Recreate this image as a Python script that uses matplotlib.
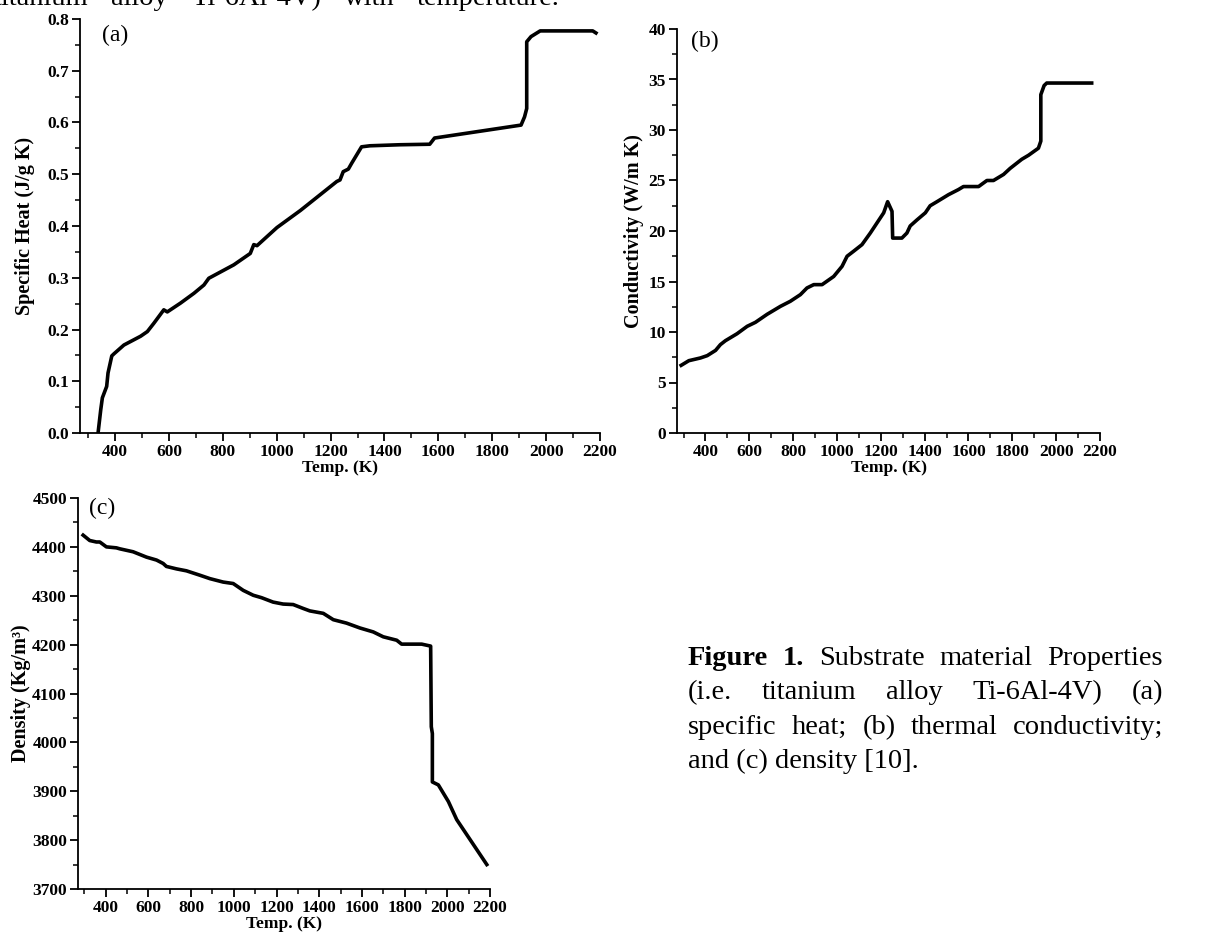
import matplotlib
matplotlib.use('Agg')
from matplotlib import pyplot as plt
from matplotlib.ticker import MultipleLocator

plt.rcParams['font.family'] = ['Liberation Serif', 'DejaVu Serif']

# (a) specific heat
temp_a = [337, 347, 353, 369, 374, 388, 396, 433, 495, 520, 544, 581, 594, 643, 693, 730,
          748, 841, 902, 915, 927, 1001, 1088, 1223, 1235, 1247, 1266, 1278, 1315, 1346,
          1457, 1568, 1586, 1907, 1920, 1928, 1928, 1944, 1978, 2173, 2185]
cp_a = [0.0, 0.045, 0.068, 0.09, 0.116, 0.149, 0.153, 0.17, 0.187, 0.196, 0.212, 0.238,
        0.234, 0.251, 0.27, 0.286, 0.299, 0.325, 0.347, 0.364, 0.362, 0.397, 0.430, 0.486,
        0.489, 0.505, 0.51, 0.521, 0.553, 0.555, 0.557, 0.558, 0.570, 0.595, 0.611, 0.627,
        0.756, 0.766, 0.777, 0.777, 0.773]

# (b) thermal conductivity
temp_b = [289, 324, 377, 408, 446, 468, 491, 544, 590, 628, 681, 742, 787, 833, 863, 894,
          932, 985, 1023, 1046, 1076, 1114, 1152, 1213, 1231, 1251, 1254, 1296, 1319, 1334,
          1365, 1403, 1425, 1456, 1509, 1554, 1577, 1646, 1684, 1714, 1760, 1790, 1843,
          1874, 1919, 1930, 1930, 1945, 1957, 2162]
k_b = [6.7, 7.16, 7.43, 7.66, 8.18, 8.75, 9.14, 9.83, 10.56, 10.96, 11.75, 12.54, 13.04,
       13.7, 14.36, 14.69, 14.69, 15.5, 16.5, 17.5, 18.0, 18.65, 19.8, 21.8, 22.9, 21.95,
       19.3, 19.3, 19.8, 20.5, 21.1, 21.8, 22.5, 22.9, 23.6, 24.1, 24.4, 24.4, 25.0, 25.0,
       25.6, 26.2, 27.1, 27.5, 28.2, 28.9, 33.5, 34.4, 34.65, 34.65]

# (c) density
temp_c = [294, 325, 356, 372, 403, 450, 466, 528, 591, 638, 669, 684, 731, 778, 841, 888,
          950, 997, 1044, 1091, 1130, 1184, 1231, 1278, 1325, 1356, 1419, 1466, 1528, 1591,
          1653, 1700, 1763, 1786, 1880, 1922, 1925, 1930, 1930, 1958, 2005, 2044, 2185]
rho_c = [4424, 4413, 4410, 4410, 4400, 4398, 4396, 4390, 4379, 4373, 4366, 4360, 4355,
         4351, 4342, 4335, 4328, 4325, 4311, 4301, 4296, 4287, 4283, 4282, 4274, 4269,
         4264, 4251, 4244, 4234, 4226, 4216, 4209, 4201, 4201, 4197, 4032, 4018, 3919,
         3913, 3879, 3842, 3750]

x_ticks = list(range(400, 2201, 200))

W, H = 1219, 942
fig = plt.figure(figsize=(W / 100, H / 100), dpi=100)
renderer = fig.canvas.get_renderer()


def px_axes(left, top, right, bottom):
    return fig.add_axes([left / W, 1 - bottom / H, (right - left) / W, (bottom - top) / H])


def style(ax, ylim, ymajor, yminor, ylabel, ypad, tag, tag_pos):
    ax.set_xlim(270, 2200)
    ax.set_ylim(*ylim)
    ax.set_xticks(x_ticks)
    ax.xaxis.set_minor_locator(MultipleLocator(100))
    ax.yaxis.set_major_locator(MultipleLocator(ymajor))
    ax.yaxis.set_minor_locator(MultipleLocator(yminor))
    for s in ['top', 'right']:
        ax.spines[s].set_visible(False)
    for s in ['left', 'bottom']:
        ax.spines[s].set_linewidth(1.3)
    ax.tick_params(which='major', direction='out', length=6, width=1.3, pad=2, labelsize=12.5)
    ax.tick_params(which='minor', direction='out', length=3.5, width=1.1)
    ax.set_xlabel('Temp. (K)', fontsize=12.5, fontweight='bold', labelpad=0)
    ax.set_ylabel(ylabel, fontsize=14.5, fontweight='bold', labelpad=ypad)
    ax.text(tag_pos[0], tag_pos[1], tag, transform=ax.transAxes, fontsize=17, va='top')


ax_a = px_axes(80, 19, 600, 433)
ax_a.plot(temp_a, cp_a, color='black', lw=2.6)
style(ax_a, (0, 0.8), 0.1, 0.05, 'Specific Heat (J/g K)', 9, '(a)', (0.042, 0.985))
ax_a.yaxis.set_major_formatter(plt.FuncFormatter(lambda v, p: f'{v:.1f}'))

ax_b = px_axes(677, 29, 1100, 433)
ax_b.plot(temp_b, k_b, color='black', lw=2.6)
style(ax_b, (0, 40), 5, 2.5, 'Conductivity (W/m K)', 3, '(b)', (0.033, 0.995))

ax_c = px_axes(78, 498, 490, 889)
ax_c.plot(temp_c, rho_c, color='black', lw=2.6)
style(ax_c, (3700, 4500), 100, 50, 'Density (Kg/m³)', 1, '(c)', (0.027, 1.0))

for ax in (ax_a, ax_b, ax_c):
    for lab in ax.get_xticklabels() + ax.get_yticklabels():
        lab.set_fontweight('bold')

cap_size = 20.5


def justify(words, base, x0, x1):
    # lay the words out so the line fills x0..x1, as the page text does
    texts = [fig.text(0, 1 - base / H, w, fontsize=cap_size, fontweight=b, va='baseline')
             for w, b in words]
    widths = [t.get_window_extent(renderer).width for t in texts]
    gap = (x1 - x0 - sum(widths)) / (len(texts) - 1)
    x = x0
    for t, w in zip(texts, widths):
        t.set_x(x / W)
        x += w + gap


cap_left, cap_right = 688, 1163
caption_lines = [
    [('Figure', 'bold'), ('1.', 'bold'), ('Substrate', 'normal'), ('material', 'normal'),
     ('Properties', 'normal')],
    [('(i.e.', 'normal'), ('titanium', 'normal'), ('alloy', 'normal'),
     ('Ti-6Al-4V)', 'normal'), ('(a)', 'normal')],
    [('specific', 'normal'), ('heat;', 'normal'), ('(b)', 'normal'), ('thermal', 'normal'),
     ('conductivity;', 'normal')],
]
baselines = [665, 699, 734, 768]
for words, base in zip(caption_lines, baselines):
    justify(words, base, cap_left, cap_right)
fig.text(cap_left / W, 1 - baselines[3] / H, 'and (c) density [10].', fontsize=cap_size,
         va='baseline')

# line of body text cut off by the top edge
top_words = ['titanium', 'alloy', 'Ti-6Al-4V)', 'with', 'temperature.']
justify([(w, 'normal') for w in top_words], 5, -6, 560)

fig.savefig('out.png', dpi=100)
